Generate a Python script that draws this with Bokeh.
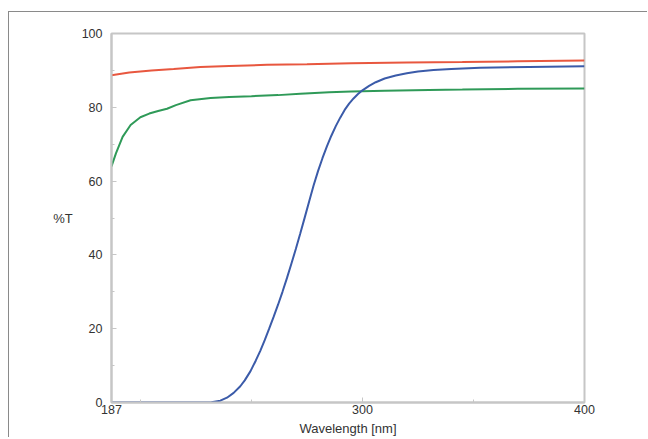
from bokeh.plotting import figure
from bokeh.models import Range1d, FixedTicker
from bokeh.embed import file_html
from bokeh.resources import INLINE

# ---- data ----
red_x = [187, 195, 205, 215, 227, 240, 257, 275, 295, 320, 345, 370, 400]
red_y = [88.7, 89.4, 90.0, 90.4, 90.9, 91.2, 91.5, 91.7, 91.95, 92.15, 92.25, 92.45, 92.7]

green_x = [187, 189, 192, 195.6, 200, 204, 208, 212, 216, 222.6, 231.6, 240, 250, 262, 272, 285, 295, 310, 330, 345, 370, 400]
green_y = [64.0, 67.5, 72.0, 75.2, 77.3, 78.3, 79.0, 79.6, 80.6, 81.9, 82.5, 82.8, 83.0, 83.3, 83.7, 84.1, 84.3, 84.5, 84.7, 84.8, 85.0, 85.1]

blue_x = [187, 200, 220, 232, 236, 239, 242, 245, 247, 249.6, 252, 254, 256, 258, 260, 262, 264, 266, 268, 270, 272, 274, 276, 278, 280, 282, 284, 286, 288, 290, 292, 294, 296, 298, 300, 303, 306, 310, 315, 320, 325, 332, 340, 353, 375, 400]
blue_y = [0, 0, 0, 0.1, 0.5, 1.3, 2.6, 4.4, 6.0, 8.5, 11.4, 14.0, 16.9, 20.0, 23.2, 26.5, 30.0, 33.7, 37.6, 41.6, 45.8, 50.1, 54.5, 58.8, 62.7, 66.2, 69.4, 72.3, 74.9, 77.2, 79.3, 81.0, 82.4, 83.6, 84.6, 85.8, 86.8, 87.8, 88.6, 89.2, 89.7, 90.1, 90.4, 90.7, 90.95, 91.1]

x_major = [187, 300, 400]
x_minor = [200, 250, 350]
y_major = [0, 20, 40, 60, 80, 100]
y_minor = [10, 30, 50, 70, 90]

FONT = "Liberation Sans"
FRAME = "#c6c6c6"

p = figure(width=639, height=426, output_backend="svg", toolbar_location=None,
           x_range=Range1d(187, 400), y_range=Range1d(0, 100),
           min_border_left=102, min_border_right=64, min_border_top=21, min_border_bottom=35)
p.margin = (11, 0, 0, 8)
p.styles = {"border-top": "1px solid #8a8a8a", "border-left": "1px solid #8a8a8a"}

p.xgrid.visible = False
p.ygrid.visible = False
p.outline_line_color = FRAME
p.outline_line_width = 2

p.line(red_x, red_y, line_color="#e8573f", line_width=2)
p.line(green_x, green_y, line_color="#2f9a58", line_width=2)
p.line(blue_x, blue_y, line_color="#3b5ba9", line_width=2)

p.xaxis.ticker = FixedTicker(ticks=x_major, minor_ticks=x_minor)
p.yaxis.ticker = FixedTicker(ticks=y_major, minor_ticks=y_minor)

for ax in (p.xaxis[0], p.yaxis[0]):
    ax.axis_line_color = FRAME
    ax.axis_line_width = 2
    ax.major_tick_in = 5
    ax.major_tick_out = 0
    ax.minor_tick_in = 3
    ax.minor_tick_out = 0
    ax.major_tick_line_color = FRAME
    ax.minor_tick_line_color = FRAME
    ax.major_label_text_font = FONT
    ax.major_label_text_font_size = "12.5px"
    ax.major_label_text_color = "#333333"
    ax.axis_label_text_font = FONT
    ax.axis_label_text_font_size = "13px"
    ax.axis_label_text_font_style = "normal"
    ax.axis_label_text_color = "#333333"

p.xaxis.axis_label = "Wavelength [nm]"
p.xaxis.major_label_standoff = 2
p.xaxis.axis_label_standoff = 4

p.yaxis.axis_label = "%T"
p.yaxis.axis_label_orientation = "horizontal"
p.yaxis.major_label_standoff = 9
p.yaxis.axis_label_standoff = 6

open("out.html", "w").write(file_html(p, INLINE))
